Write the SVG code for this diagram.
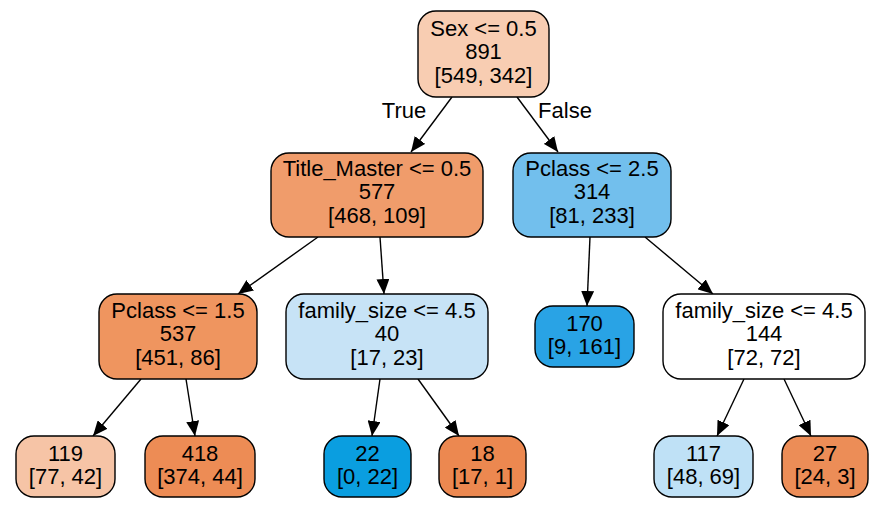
<svg xmlns="http://www.w3.org/2000/svg" width="883" height="522" viewBox="0 0 883 522">
<defs>
<marker id="arr" markerUnits="userSpaceOnUse" markerWidth="15" markerHeight="13" viewBox="0 0 15 13" refX="15" refY="6.5" orient="auto">
<path d="M0,0 L15,6.5 L0,13 z" fill="#000"/>
</marker>
</defs>
<style>
.n rect{stroke:#000;stroke-width:1.4}
text{font-family:"Liberation Sans",Arial,sans-serif;font-size:22px;fill:#000;text-anchor:middle}
.e line{stroke:#000;stroke-width:1.4;marker-end:url(#arr)}
</style>
<rect width="883" height="522" fill="#fff"/>
<g class="e" id="edges">
<line x1="452" y1="97" x2="411" y2="152"/>
<line x1="517" y1="97" x2="558" y2="152"/>
<line x1="318" y1="237" x2="238" y2="294"/>
<line x1="380" y1="237" x2="384" y2="294"/>
<line x1="590" y1="237" x2="587" y2="306"/>
<line x1="645" y1="237" x2="713" y2="294"/>
<line x1="141" y1="379" x2="93" y2="436"/>
<line x1="186" y1="379" x2="195" y2="436"/>
<line x1="380" y1="379" x2="372" y2="436"/>
<line x1="418" y1="379" x2="459" y2="436"/>
<line x1="744" y1="379" x2="717" y2="436"/>
<line x1="784" y1="379" x2="811" y2="436"/>
<text x="404" y="118">True</text>
<text x="565" y="118">False</text>
</g>
<g class="n" id="n0"><rect x="418" y="11" width="131" height="86" rx="18" fill="#f8cdb2"/><text x="483.5" y="36">Sex &lt;= 0.5</text><text x="483.5" y="59.3">891</text><text x="483.5" y="82.7">[549, 342]</text></g>
<g class="n" id="n1"><rect x="271" y="153" width="212" height="84" rx="18" fill="#f09c6b"/><text x="377" y="176">Title_Master &lt;= 0.5</text><text x="377" y="199.3">577</text><text x="377" y="222.7">[468, 109]</text></g>
<g class="n" id="n2"><rect x="513" y="153" width="158" height="84" rx="18" fill="#72bfed"/><text x="592" y="176">Pclass &lt;= 2.5</text><text x="592" y="199.3">314</text><text x="592" y="222.7">[81, 233]</text></g>
<g class="n" id="n3"><rect x="99" y="294" width="158" height="85" rx="18" fill="#ef955f"/><text x="178" y="318">Pclass &lt;= 1.5</text><text x="178" y="341.3">537</text><text x="178" y="364.7">[451, 86]</text></g>
<g class="n" id="n4"><rect x="286" y="294" width="202" height="85" rx="18" fill="#c7e3f6"/><text x="387" y="318">family_size &lt;= 4.5</text><text x="387" y="341.3">40</text><text x="387" y="364.7">[17, 23]</text></g>
<g class="n" id="n5"><rect x="535" y="306" width="99" height="61" rx="18" fill="#29a3e5"/><text x="584.5" y="330.5">170</text><text x="584.5" y="354">[9, 161]</text></g>
<g class="n" id="n6"><rect x="663" y="294" width="202" height="85" rx="18" fill="#ffffff"/><text x="764" y="318">family_size &lt;= 4.5</text><text x="764" y="341.3">144</text><text x="764" y="364.7">[72, 72]</text></g>
<g class="n" id="n7"><rect x="16" y="436" width="99" height="61" rx="18" fill="#f6c4a6"/><text x="65.5" y="460.5">119</text><text x="65.5" y="484">[77, 42]</text></g>
<g class="n" id="n8"><rect x="145" y="436" width="110" height="61" rx="18" fill="#ed8c55"/><text x="200" y="460.5">418</text><text x="200" y="484">[374, 44]</text></g>
<g class="n" id="n9"><rect x="324" y="436" width="87" height="61" rx="18" fill="#0a9ee0"/><text x="367.5" y="460.5">22</text><text x="367.5" y="484">[0, 22]</text></g>
<g class="n" id="n10"><rect x="439" y="436" width="87" height="61" rx="18" fill="#ec8850"/><text x="482.5" y="460.5">18</text><text x="482.5" y="484">[17, 1]</text></g>
<g class="n" id="n11"><rect x="654" y="436" width="99" height="61" rx="18" fill="#bfe1f6"/><text x="703.5" y="460.5">117</text><text x="703.5" y="484">[48, 69]</text></g>
<g class="n" id="n12"><rect x="782" y="436" width="86" height="61" rx="18" fill="#ec8d57"/><text x="825" y="460.5">27</text><text x="825" y="484">[24, 3]</text></g>
</svg>
